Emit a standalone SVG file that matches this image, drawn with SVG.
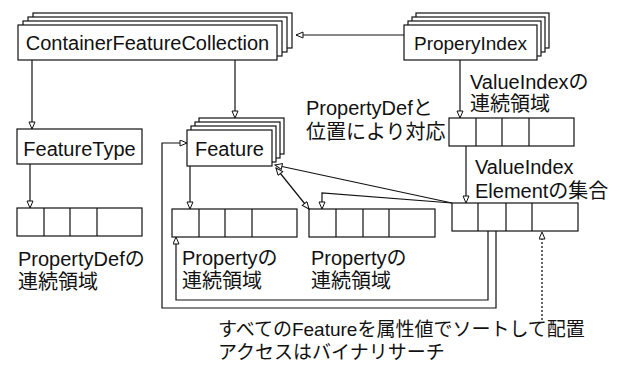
<svg xmlns="http://www.w3.org/2000/svg" width="620" height="373" viewBox="0 0 620 373">
<defs>
<style>
.box{fill:#fff;stroke:#111;stroke-width:1.2}
.cell{fill:#fff;stroke:#111;stroke-width:1.2}
.lbl{font-family:"Liberation Sans","Noto Sans CJK JP",sans-serif;font-size:20px;fill:#111}
.jp{font-family:"Liberation Sans","Noto Sans CJK JP",sans-serif;font-size:20px;fill:#111}
.note{font-family:"Liberation Sans","Noto Sans CJK JP",sans-serif;font-size:19px;fill:#111}
.con{fill:none;stroke:#111;stroke-width:1.2}
.dot{fill:none;stroke:#111;stroke-width:1.3;stroke-dasharray:2 2}
</style>
<marker id="ah" markerUnits="userSpaceOnUse" markerWidth="10" markerHeight="8" refX="8" refY="3.5" orient="auto-start-reverse">
<path d="M1,0.5 L8,3.5 L1,6.5 z" fill="#fff" stroke="#111" stroke-width="1"/>
</marker>
</defs>
<rect width="620" height="373" fill="#fff"/>

<g id="ContainerFeatureCollection">
<rect class="box" x="33" y="13" width="259" height="35"/>
<rect class="box" x="28" y="17" width="259" height="35"/>
<rect class="box" x="23" y="21" width="259" height="35"/>
<rect class="box" x="18" y="25" width="259" height="35"/>
<text class="lbl" x="147.5" y="50" text-anchor="middle">ContainerFeatureCollection</text>
</g>

<g id="ProperyIndex">
<rect class="box" x="416" y="13" width="133" height="35"/>
<rect class="box" x="412" y="17" width="133" height="35"/>
<rect class="box" x="408" y="21" width="133" height="35"/>
<rect class="box" x="404" y="25" width="133" height="35"/>
<text class="lbl" x="470.5" y="50" text-anchor="middle" style="font-size:19px">ProperyIndex</text>
</g>

<g id="FeatureType">
<rect class="box" x="17" y="129" width="125" height="35"/>
<text class="lbl" x="79.5" y="156" text-anchor="middle">FeatureType</text>
</g>

<g id="Feature">
<rect class="box" x="199" y="118" width="85" height="36"/>
<rect class="box" x="195" y="122" width="85" height="36"/>
<rect class="box" x="191" y="126" width="85" height="36"/>
<rect class="box" x="187" y="130" width="85" height="36"/>
<text class="lbl" x="229.5" y="156" text-anchor="middle">Feature</text>
</g>

<g id="PropertyDefArray">
<rect class="cell" x="17" y="208" width="125" height="28"/>
<path class="cell" d="M44,208V236M70,208V236M97,208V236"/>
<text class="jp" x="18" y="266">PropertyDefの</text>
<text class="jp" x="18" y="289">連続領域</text>
</g>

<g id="PropertyArray1">
<rect class="cell" x="172" y="209" width="125" height="28"/>
<path class="cell" d="M199,209V237M225,209V237M252,209V237"/>
<text class="jp" x="182" y="265">Propertyの</text>
<text class="jp" x="182" y="288">連続領域</text>
</g>

<g id="PropertyArray2">
<rect class="cell" x="309" y="209" width="126" height="28"/>
<path class="cell" d="M336,209V237M363,209V237M389,209V237"/>
<text class="jp" x="311" y="265">Propertyの</text>
<text class="jp" x="311" y="288">連続領域</text>
</g>

<g id="ValueIndexArray">
<rect class="cell" x="449" y="118" width="125" height="28"/>
<path class="cell" d="M476,118V146M502,118V146M529,118V146"/>
<text class="jp" x="470" y="89">ValueIndexの</text>
<text class="jp" x="470" y="111">連続領域</text>
<text class="jp" x="306" y="115">PropertyDefと</text>
<text class="jp" x="306" y="139">位置により対応</text>
</g>

<g id="ValueIndexElementArray">
<rect class="cell" x="452" y="203" width="126" height="28"/>
<path class="cell" d="M478,203V231M506,203V231M532,203V231"/>
<text class="jp" x="475" y="174">ValueIndex</text>
<text class="jp" x="475" y="198">Elementの集合</text>
</g>

<g id="Note">
<text class="note" x="218" y="336">すべてのFeatureを属性値でソートして配置</text>
<text class="note" x="218" y="359">アクセスはバイナリサーチ</text>
</g>

<g id="connectors">
<path class="con" d="M404,35H296" marker-end="url(#ah)"/>
<path class="con" d="M32,60V129" marker-end="url(#ah)"/>
<path class="con" d="M235,60V118" marker-end="url(#ah)"/>
<path class="con" d="M460,60V118" marker-end="url(#ah)"/>
<path class="con" d="M30,164V208" marker-end="url(#ah)"/>
<path class="con" d="M190,166V209" marker-end="url(#ah)"/>
<path class="con" d="M466,146V203" marker-end="url(#ah)"/>
<path class="con" d="M452,203L275,165" marker-end="url(#ah)"/>
<path class="con" d="M452,203L322,193V209" marker-end="url(#ah)"/>
<path class="con" d="M276,168L309,209" marker-start="url(#ah)" marker-end="url(#ah)"/>
<path class="con" d="M488,231V300H176V237" marker-end="url(#ah)"/>
<path class="con" d="M496,231V308H162V143H187" marker-end="url(#ah)"/>
<path class="dot" d="M542,320V232" marker-end="url(#ah)"/>
</g>
</svg>
